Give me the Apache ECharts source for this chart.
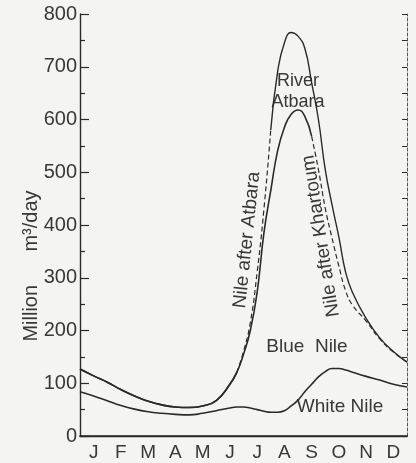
<!DOCTYPE html>
<html>
<head>
<meta charset="utf-8">
<script src="https://cdn.jsdelivr.net/npm/echarts@6/dist/echarts.min.js"></script>
<style>
  html, body { margin: 0; padding: 0; background: #f4f4f2; }
  #chart { width: 416px; height: 463px; }
</style>
</head>
<body>
<div id="chart"></div>
<script>
// Month letters along the time axis
const months = ['J', 'F', 'M', 'A', 'M', 'J', 'J', 'A', 'S', 'O', 'N', 'D'];
// Sample positions through the year, in months from 1 January (denser in the flood season)
const monthPos = [0, 0.5, 1, 1.5, 2, 2.5, 3, 3.5, 4, 4.5, 5, 5.5, 5.75, 6, 6.25, 6.5, 6.75,
  7, 7.25, 7.5, 7.75, 8, 8.25, 8.5, 8.75, 9, 9.25, 9.5, 9.75, 10, 10.5, 11, 11.5, 12];
// Flow, million m³/day
const whiteNile = [84, 76, 67, 58, 51, 46, 43, 41, 40, 43, 48, 53, 55, 55, 53, 50, 47,
  45, 45, 48, 57, 68, 84, 98, 112, 122, 128, 128, 125, 121, 113, 106, 98, 93];
const nileAfterKhartoum = [127, 114, 102, 88, 76, 66, 59, 55, 54, 57, 67, 98, 120, 155, 200, 272, 385,
  465, 540, 585, 610, 618, 606, 568, 505, 432, 375, 322, 275, 248, 218, 184, 159, 140];
const nileAfterAtbara = [127, 114, 102, 88, 76, 66, 59, 55, 54, 57, 67, 98, 120, 160, 215, 310, 430,
  580, 690, 745, 765, 758, 735, 670, 600, 505, 438, 377, 310, 272, 223, 186, 160, 140];
// Y axis tick labels
const yTicks = [0, 100, 200, 300, 400, 500, 600, 700, 800];

const INK = '#2a2a2a';
const TEXT = '#383838';
const FONT = 'Liberation Sans';

// Pairs [month, value] restricted to a span of the year
function span(values, from, to) {
  const out = [];
  monthPos.forEach((m, i) => { if (m >= from && m <= to) out.push([m, values[i]]); });
  return out;
}

function curve(data, width, dashed) {
  return {
    type: 'line', xAxisIndex: 2, yAxisIndex: 0, data: data,
    smooth: 0.5, symbol: 'none', silent: true,
    lineStyle: { color: INK, width: width, type: dashed ? [5, 3] : 'solid' }
  };
}

function label(text, x, y, deg, size) {
  return {
    type: 'text', x: x, y: y, rotation: (deg || 0) * Math.PI / 180,
    style: { text: text, fill: TEXT, font: (size || 19) + 'px "Liberation Sans"', lineHeight: 21,
      align: 'center', verticalAlign: 'middle' }
  };
}

const chart = echarts.init(document.getElementById('chart'), null, { renderer: 'canvas' });
chart.setOption({
  animation: false,
  backgroundColor: '#f4f4f2',
  grid: { left: 80, right: 9, top: 14, bottom: 27 },
  xAxis: [
    {
      type: 'category', data: months, position: 'bottom', boundaryGap: true,
      axisLine: { lineStyle: { color: INK, width: 1.6 } },
      axisTick: { inside: true, length: 4, interval: 0, lineStyle: { color: INK } },
      axisLabel: { color: TEXT, fontFamily: FONT, fontSize: 19, margin: 7, interval: 0 },
      splitLine: { show: false }
    },
    {
      type: 'category', data: months, position: 'top', boundaryGap: true,
      axisLine: { lineStyle: { color: INK, width: 1.4 } },
      axisTick: { inside: true, length: 4, interval: 0, lineStyle: { color: INK } },
      axisLabel: { show: false },
      splitLine: { show: false }
    },
    { type: 'value', min: 0, max: 12, show: false }
  ],
  yAxis: [
    {
      type: 'value', min: yTicks[0], max: yTicks[yTicks.length - 1], interval: 100, position: 'left',
      axisLine: { show: true, lineStyle: { color: INK, width: 1.4 } },
      axisTick: { show: true, inside: true, length: 9, lineStyle: { color: INK, width: 1.2 } },
      minorTick: { show: true, splitNumber: 2, length: 5, lineStyle: { color: INK, width: 1.2 } },
      axisLabel: { color: TEXT, fontFamily: FONT, fontSize: 20, margin: 3 },
      splitLine: { show: false }
    },
    {
      type: 'value', min: 0, max: 800, interval: 50, position: 'right',
      axisLine: { show: true, lineStyle: { color: '#555', width: 1, type: [3, 2] } },
      axisTick: { show: true, inside: true, length: 5, lineStyle: { color: INK } },
      axisLabel: { show: false },
      splitLine: { show: false }
    }
  ],
  series: [
    curve(span(whiteNile, 0, 12), 1.6, false),
    curve(span(nileAfterKhartoum, 0, 8.5), 1.6, false),
    curve(span(nileAfterKhartoum, 8.5, 12), 1.2, true),
    curve(span(nileAfterAtbara, 0, 5.75), 1.6, false),
    curve(span(nileAfterAtbara, 5.75, 7), 1.2, true),
    curve(span(nileAfterAtbara, 7, 12), 1.4, false)
  ],
  graphic: [
    label('Million      m³/day', 31, 266, 90, 20),
    label('River\nAtbara', 298, 92, 0, 18),
    label('Nile after Atbara', 247, 240, 84, 19),
    label('Nile after Khartoum', 321, 236, 99, 19),
    label('Blue  Nile', 307, 347, 0, 19),
    label('White Nile', 340, 407, 0, 19)
  ]
});
</script>
</body>
</html>
